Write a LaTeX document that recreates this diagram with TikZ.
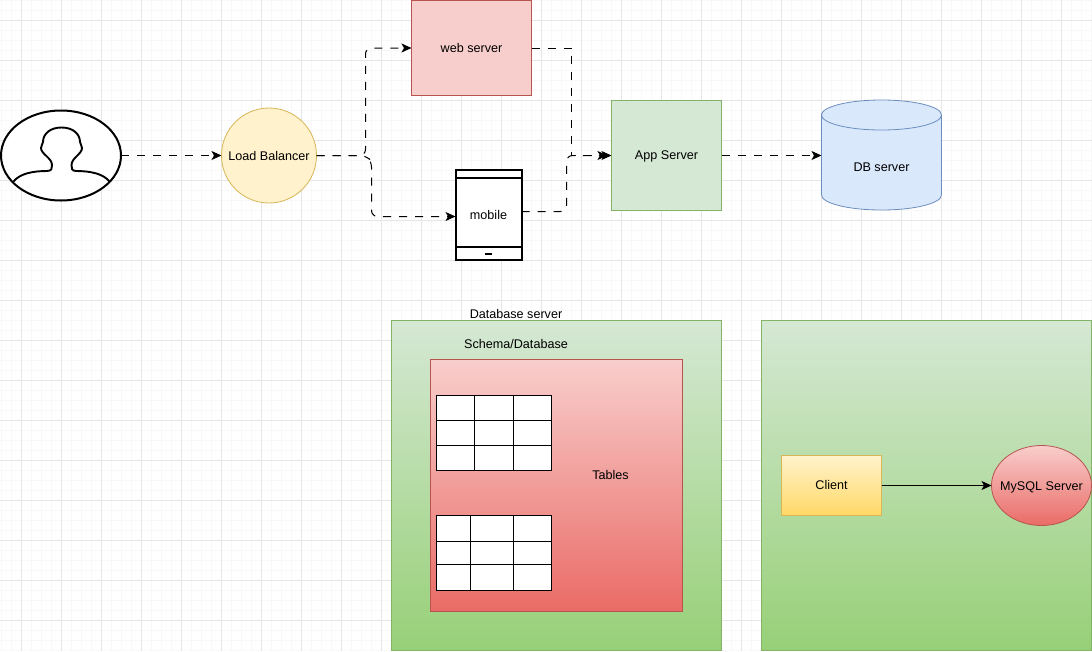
\documentclass[tikz,border=0pt]{standalone}
\usepackage{fontspec}
\setmainfont{Liberation Sans}
\usetikzlibrary{arrows.meta,shapes.geometric}
\definecolor{gfine}{HTML}{F8F8F8}
\definecolor{gbold}{HTML}{E6E6E6}
\definecolor{yelF}{HTML}{FFF2CC}\definecolor{yelD}{HTML}{D6B656}
\definecolor{redF}{HTML}{F8CECC}\definecolor{redD}{HTML}{B85450}
\definecolor{grnF}{HTML}{D5E8D4}\definecolor{grnD}{HTML}{82B366}
\definecolor{bluF}{HTML}{DAE8FC}\definecolor{bluD}{HTML}{6C8EBF}
\definecolor{grnB}{HTML}{97D077}\definecolor{redB}{HTML}{EA6B66}\definecolor{yelB}{HTML}{FFD966}
\tikzset{
  x=1pt,y=-1pt,
  base/.style={font=\fontsize{12.6}{14}\selectfont,text=black,inner sep=0pt,line width=0.8pt},
  label/.style={base},
  link/.style={line width=1pt,draw=black,dash pattern=on 8pt off 8pt,rounded corners=6pt},
  tip/.style={-{Stealth[length=10pt,width=9pt,inset=2.5pt]}},
  solidlink/.style={line width=1pt,draw=black,-{Stealth[length=10pt,width=9pt,inset=2.5pt]}},
  cell/.style={line width=1pt,draw=black},
}
\begin{document}
\begin{tikzpicture}
\useasboundingbox (0,0) rectangle (1092,651);
\fill[white] (0,0) rectangle (1092,651);
% grid
\foreach \i in {0,...,109}{\draw[gfine,line width=1pt] (1.5+\i*10,0) -- (1.5+\i*10,651);}
\foreach \i in {0,...,65}{\draw[gfine,line width=1pt] (0,0.5+\i*10) -- (1092,0.5+\i*10);}
\foreach \i in {0,...,27}{\draw[gbold,line width=1pt] (21.5+\i*40,0) -- (21.5+\i*40,651);}
\foreach \i in {0,...,15}{\draw[gbold,line width=1pt] (0,20.5+\i*40) -- (1092,20.5+\i*40);}

% person
\node[ellipse,draw=black,line width=2pt,fill=white,minimum width=120pt,minimum height=90pt,inner sep=0pt,outer sep=0pt] (user) at (61,155.5) {};
\draw[black,line width=1.9pt,line join=round]
  (13.5,181.5) .. controls (20,173.5) and (33,171) .. (47,171)
  .. controls (52,171) and (52,168) .. (52,165)
  .. controls (52,158) and (41,154) .. (41,148)
  .. controls (41,145) and (43,144) .. (43,142)
  .. controls (43,134) and (50,127.5) .. (61.5,127.5)
  .. controls (73,127.5) and (80,134) .. (80,142)
  .. controls (80,144) and (82,145) .. (82,148)
  .. controls (82,154) and (71.5,158) .. (71.5,165)
  .. controls (71.5,168) and (71.5,171) .. (76,171)
  .. controls (90,171) and (103,173.5) .. (109.5,181.5);

\node[base,circle,draw=yelD,fill=yelF,minimum size=95pt,outer sep=0pt] (lb) at (269,155.5) {\makebox[0pt]{Load Balancer}};
\node[base,draw=redD,fill=redF,minimum width=120pt,minimum height=95pt,outer sep=0pt] (web) at (471.5,48) {\raisebox{0.7pt}{web server}};
\node[base,draw=grnD,fill=grnF,minimum width=110pt,minimum height=110pt,outer sep=0pt] (app) at (666.5,155.5) {\raisebox{-1pt}[\height][\depth]{App Server}};

% database cylinder
\path[fill=bluF] (821.5,115) .. controls (821.5,106.7) and (848.4,100) .. (881.5,100)
  .. controls (914.6,100) and (941.5,106.7) .. (941.5,115) -- (941.5,195)
  .. controls (941.5,203.3) and (914.6,210) .. (881.5,210)
  .. controls (848.4,210) and (821.5,203.3) .. (821.5,195) -- cycle;
\draw[bluD,line width=0.8pt] (821.5,115) .. controls (821.5,106.7) and (848.4,100) .. (881.5,100)
  .. controls (914.6,100) and (941.5,106.7) .. (941.5,115)
  .. controls (941.5,123.3) and (914.6,130) .. (881.5,130)
  .. controls (848.4,130) and (821.5,123.3) .. (821.5,115) -- (821.5,195)
  .. controls (821.5,203.3) and (848.4,210) .. (881.5,210)
  .. controls (914.6,210) and (941.5,203.3) .. (941.5,195) -- (941.5,115);
\coordinate (dbleft) at (821.5,155.5);
\node[label] (dbtext) at (881.5,167.5) {DB server};

% mobile
\node[base,draw=black,line width=2pt,fill=white,minimum width=66pt,minimum height=90pt,outer sep=0pt] (mobile) at (488.5,215) {mobile};
\draw[black,line width=2pt] (455.5,178) -- (521.5,178);
\draw[black,line width=2pt] (455.5,247) -- (521.5,247);
\draw[black,line width=2pt] (485,253.5) -- (492,253.5);

% connectors
\coordinate (forkA) at (365.5,155.5);
\coordinate (forkB) at (371.5,155.5);
\draw[link,tip] (user.east) -- (lb.west);
\draw[link,tip] (lb.east) -- (forkA) |- (web.west);
\draw[link,tip] (lb.east) -- (forkA) -- (forkB |- 0,161) -- (forkB |- 0,216.5) -- (mobile.west |- 0,216.5);
\draw[link,rounded corners=0pt,tip] (web.east) -- (571.5,48) -- (571.5,155.5) -- (app.west);
\draw[link,tip,shorten >=4pt] (mobile.east |- 0,211.5) -- (566.5,211.5) -- (566.5,155.5) -- (app.west);

% database server panel
\node[base,rectangle,draw=grnD,top color=grnF,bottom color=grnB,minimum width=330pt,minimum height=330pt,outer sep=0pt] (dbs) at (556.5,485.5) {};
\node[label] (dbstitle) at (516,313.5) {Database server};
\node[label] (schematitle) at (516,343.5) {Schema/Database};
\node[base,rectangle,draw=redD,top color=redF,bottom color=redB,minimum width=252pt,minimum height=252pt,outer sep=0pt] (schema) at (556.5,485.5) {};
\node[base,draw=black,fill=white,line width=1pt,minimum width=115pt,minimum height=75pt,outer sep=0pt] (t1) at (494,433) {};
\draw[cell] (474.5,395.5) -- (474.5,470.5) (513.5,395.5) -- (513.5,470.5) (436.5,420.5) -- (551.5,420.5) (436.5,445.5) -- (551.5,445.5);
\node[base,draw=black,fill=white,line width=1pt,minimum width=115pt,minimum height=75pt,outer sep=0pt] (t2) at (494,553) {};
\draw[cell] (470.5,515.5) -- (470.5,590.5) (513.5,515.5) -- (513.5,590.5) (436.5,541.5) -- (551.5,541.5) (436.5,564.5) -- (551.5,564.5);
\node[label] (tables) at (610.5,474.5) {Tables};

% client panel
\node[base,rectangle,draw=grnD,top color=grnF,bottom color=grnB,minimum width=330pt,minimum height=330pt,outer sep=0pt] (panel) at (926.5,485.5) {};
\node[base,rectangle,draw=yelD,top color=yelF,bottom color=yelB,minimum width=100pt,minimum height=60pt,outer sep=0pt] (client) at (831.5,485.5) {\raisebox{0.8pt}{Client}};
\node[base,ellipse,draw=redD,top color=redF,bottom color=redB,minimum width=100pt,minimum height=80pt,outer sep=0pt] (mysql) at (1041.5,485.5) {\makebox[0pt]{\raisebox{-1.5pt}[\height][\depth]{MySQL Server}}};
\draw[solidlink] (client.east) -- (mysql.west);

% arrow into DB
\draw[link,tip] (app.east) -- (dbleft);
\end{tikzpicture}
\end{document}
